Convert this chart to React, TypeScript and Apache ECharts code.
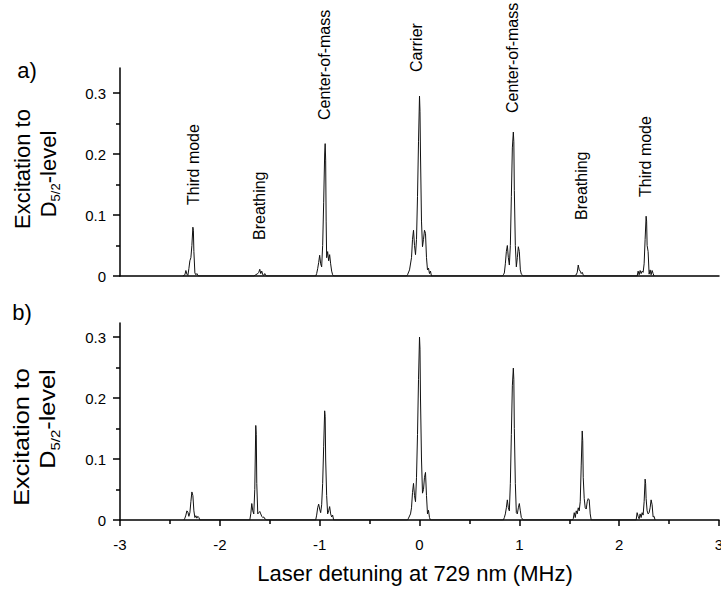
import React, { useEffect, useRef } from 'react';
import * as echarts from 'echarts';

type Pt = [number, number];

// ---------- Panel a) peaks (detuning MHz, excitation) ----------
const aThirdL: Pt[] = [[-2.37,0],[-2.35,0.002],[-2.34,0.009],[-2.33,0.003],[-2.32,0.001],[-2.31,0.012],[-2.30,0.025],[-2.29,0.03],[-2.28,0.05],[-2.27,0.08],[-2.265,0.075],[-2.26,0.04],[-2.25,0.005],[-2.24,0.002],[-2.23,0.004],[-2.22,0.001],[-2.21,0]];
const aBreathL: Pt[] = [[-1.66,0],[-1.64,0.002],[-1.62,0.004],[-1.61,0.006],[-1.60,0.011],[-1.59,0.004],[-1.58,0.008],[-1.57,0.002],[-1.56,0.001],[-1.55,0.004],[-1.54,0.001],[-1.53,0]];
const aComL: Pt[] = [[-1.04,0],[-1.03,0.004],[-1.02,0.012],[-1.01,0.022],[-1.0,0.034],[-0.99,0.02],[-0.98,0.015],[-0.97,0.05],[-0.96,0.12],[-0.95,0.2],[-0.945,0.217],[-0.94,0.19],[-0.935,0.09],[-0.93,0.03],[-0.92,0.04],[-0.91,0.025],[-0.90,0.035],[-0.89,0.02],[-0.88,0.008],[-0.87,0.002],[-0.86,0]];
const aCarrier: Pt[] = [[-0.13,0],[-0.12,0.002],[-0.1,0.01],[-0.08,0.03],[-0.07,0.06],[-0.06,0.075],[-0.05,0.05],[-0.04,0.035],[-0.03,0.06],[-0.02,0.13],[-0.01,0.22],[0,0.295],[0.005,0.27],[0.01,0.2],[0.02,0.09],[0.03,0.048],[0.04,0.06],[0.05,0.075],[0.06,0.07],[0.07,0.03],[0.08,0.01],[0.09,0.013],[0.1,0.004],[0.11,0.008],[0.12,0]];
const aComR: Pt[] = [[0.83,0],[0.84,0.002],[0.85,0.005],[0.86,0.02],[0.87,0.04],[0.88,0.05],[0.89,0.03],[0.9,0.018],[0.91,0.05],[0.92,0.13],[0.93,0.21],[0.94,0.236],[0.945,0.22],[0.95,0.14],[0.96,0.05],[0.97,0.015],[0.98,0.03],[0.99,0.048],[1.0,0.04],[1.01,0.01],[1.02,0.003],[1.04,0]];
const aBreathR: Pt[] = [[1.55,0],[1.57,0.002],[1.58,0.006],[1.59,0.018],[1.6,0.01],[1.61,0.008],[1.62,0.004],[1.63,0.006],[1.64,0.002],[1.65,0]];
const aThirdR: Pt[] = [[2.18,0],[2.19,0.008],[2.2,0.002],[2.21,0.009],[2.22,0.004],[2.23,0.008],[2.24,0.006],[2.25,0.02],[2.26,0.06],[2.27,0.098],[2.275,0.09],[2.28,0.05],[2.29,0.04],[2.3,0.003],[2.31,0.01],[2.32,0.002],[2.33,0.009],[2.34,0.004],[2.35,0]];

// ---------- Panel b) peaks ----------
const bThirdL: Pt[] = [[-2.36,0],[-2.35,0.003],[-2.34,0.008],[-2.33,0.015],[-2.32,0.013],[-2.31,0.006],[-2.30,0.012],[-2.29,0.03],[-2.28,0.046],[-2.27,0.04],[-2.26,0.015],[-2.25,0.004],[-2.24,0.007],[-2.23,0.003],[-2.22,0.006],[-2.21,0.004],[-2.2,0]];
const bBreathL: Pt[] = [[-1.7,0],[-1.69,0.01],[-1.68,0.027],[-1.67,0.015],[-1.66,0.01],[-1.65,0.05],[-1.64,0.155],[-1.635,0.14],[-1.63,0.06],[-1.62,0.01],[-1.61,0.012],[-1.6,0.014],[-1.59,0.01],[-1.58,0.006],[-1.57,0.004],[-1.56,0.005],[-1.55,0.002],[-1.53,0]];
const bComL: Pt[] = [[-1.04,0],[-1.03,0.008],[-1.02,0.02],[-1.01,0.026],[-1.0,0.018],[-0.99,0.012],[-0.98,0.025],[-0.97,0.06],[-0.96,0.12],[-0.95,0.179],[-0.945,0.17],[-0.94,0.1],[-0.93,0.04],[-0.92,0.01],[-0.91,0.015],[-0.9,0.022],[-0.89,0.01],[-0.88,0.005],[-0.87,0.008],[-0.86,0]];
const bCarrier: Pt[] = [[-0.12,0],[-0.11,0.003],[-0.09,0.01],[-0.08,0.02],[-0.07,0.045],[-0.06,0.06],[-0.05,0.04],[-0.04,0.03],[-0.03,0.07],[-0.02,0.14],[-0.01,0.23],[0,0.3],[0.005,0.28],[0.01,0.2],[0.02,0.1],[0.03,0.044],[0.04,0.05],[0.05,0.07],[0.06,0.078],[0.07,0.04],[0.08,0.01],[0.09,0.016],[0.1,0.004],[0.11,0]];
const bComR: Pt[] = [[0.84,0],[0.85,0.004],[0.86,0.01],[0.87,0.02],[0.88,0.033],[0.89,0.02],[0.9,0.015],[0.91,0.06],[0.92,0.14],[0.93,0.22],[0.94,0.249],[0.945,0.23],[0.95,0.15],[0.96,0.06],[0.97,0.012],[0.98,0.01],[0.99,0.02],[1.0,0.027],[1.01,0.015],[1.02,0.004],[1.04,0]];
const bBreathR: Pt[] = [[1.53,0],[1.54,0.002],[1.55,0.012],[1.56,0.004],[1.57,0.015],[1.58,0.01],[1.59,0.02],[1.6,0.015],[1.61,0.03],[1.62,0.09],[1.63,0.146],[1.635,0.13],[1.64,0.07],[1.65,0.035],[1.66,0.02],[1.67,0.018],[1.68,0.03],[1.69,0.035],[1.7,0.033],[1.71,0.01],[1.72,0]];
const bThirdR: Pt[] = [[2.17,0],[2.18,0.012],[2.19,0.006],[2.2,0.002],[2.21,0.01],[2.22,0.004],[2.23,0.012],[2.24,0.008],[2.25,0.03],[2.26,0.067],[2.265,0.06],[2.27,0.035],[2.28,0.015],[2.29,0.01],[2.3,0.012],[2.31,0.02],[2.32,0.033],[2.33,0.025],[2.34,0.005],[2.35,0.006],[2.36,0]];

const panelA: Pt[] = [...aThirdL, ...aBreathL, ...aComL, ...aCarrier, ...aComR, ...aBreathR, ...aThirdR];
const panelB: Pt[] = [...bThirdL, ...bBreathL, ...bComL, ...bCarrier, ...bComR, ...bBreathR, ...bThirdR];

const peakLabels = ['Third mode', 'Breathing', 'Center-of-mass', 'Carrier', 'Center-of-mass', 'Breathing', 'Third mode'];
const yMajorTicks = [0, 0.1, 0.2, 0.3];
const yMinorTicks = [0.05, 0.15, 0.25];
const xTitle = 'Laser detuning at 729 nm (MHz)';
const panelNames = ['a)', 'b)'];

const FONT = '"Liberation Sans", Arial, Helvetica, sans-serif';

function measure(text: string, size: number): number {
  const ctx = document.createElement('canvas').getContext('2d');
  if (!ctx) return text.length * size * 0.55;
  ctx.font = `${size}px "Liberation Sans"`;
  return ctx.measureText(text).width;
}

function yTitle(c1: [number, number], c2: [number, number], stretch: number): any[] {
  const fs = 22;
  const ss = 13;
  const wD = measure('D', fs);
  const wS = measure('5/2', ss);
  const wL = measure('-level', fs);
  const start = -(wD + wS + wL) / 2;
  const base = { fill: '#000', fontFamily: FONT, verticalAlign: 'middle' };
  return [
    {
      type: 'text', x: c1[0], y: c1[1], rotation: Math.PI / 2, scaleX: stretch,
      style: { ...base, text: 'Excitation to', fontSize: fs, align: 'center' },
    },
    {
      type: 'group', x: c2[0], y: c2[1], rotation: Math.PI / 2, scaleX: stretch,
      children: [
        { type: 'text', x: start, y: 0, style: { ...base, text: 'D', fontSize: fs, align: 'left' } },
        { type: 'text', x: start + wD, y: 7, style: { ...base, text: '5/2', fontSize: ss, align: 'left' } },
        { type: 'text', x: start + wD + wS, y: 0, style: { ...base, text: '-level', fontSize: fs, align: 'left' } },
      ],
    },
  ];
}

const labelPos: [number, number][] = [[193, 205], [259, 240], [324, 120], [416, 72], [512, 113], [581, 220], [645, 197]];

export default function App() {
  const ref = useRef<HTMLDivElement>(null);
  useEffect(() => {
    if (!ref.current) return;
    const chart = echarts.init(ref.current, null, { renderer: 'svg' });

    const axisLine = { show: true, onZero: false, lineStyle: { color: '#000', width: 1.5 } };
    const yMajor = (grid: number, max: number) => ({
      type: 'value', gridIndex: grid, min: 0, max, position: 'left',
      axisLine,
      axisTick: { show: true, length: 7, customValues: yMajorTicks, lineStyle: { color: '#000', width: 1.5 } },
      axisLabel: {
        show: true, customValues: yMajorTicks, margin: 14, color: '#000', fontSize: 15, fontFamily: FONT,
        formatter: (v: number) => (v === 0 ? '0' : v.toFixed(1)),
      },
      splitLine: { show: false },
    });
    const yMinor = (grid: number, max: number) => ({
      type: 'value', gridIndex: grid, min: 0, max, position: 'left', offset: 0,
      axisLine: { show: false, onZero: false },
      axisTick: { show: true, length: 4, customValues: yMinorTicks, lineStyle: { color: '#000', width: 1.5 } },
      axisLabel: { show: false },
      splitLine: { show: false },
    });

    const annotations = peakLabels.map((t, i) => ({
      type: 'text', x: labelPos[i][0], y: labelPos[i][1], rotation: Math.PI / 2,
      style: { text: t, fontSize: 16, fontFamily: FONT, fill: '#000', align: 'left', verticalAlign: 'middle' },
    }));

    const option: any = {
      animation: false,
      backgroundColor: '#fff',
      grid: [
        { left: 120, top: 68, width: 599, height: 208, outerBoundsMode: 'none', containLabel: false },
        { left: 120, top: 323, width: 599, height: 197, outerBoundsMode: 'none', containLabel: false },
      ],
      xAxis: [
        {
          type: 'value', gridIndex: 0, min: -3, max: 3, interval: 1,
          axisLine, axisTick: { show: false }, axisLabel: { show: false }, splitLine: { show: false },
        },
        {
          type: 'value', gridIndex: 1, min: -3, max: 3, interval: 1,
          axisLine,
          axisTick: { show: true, length: 6, lineStyle: { color: '#000', width: 1.5 } },
          minorTick: { show: true, splitNumber: 2, length: 4, lineStyle: { color: '#000', width: 1.5 } },
          axisLabel: { show: true, margin: 17, color: '#000', fontSize: 15, fontFamily: FONT, hideOverlap: false },
          splitLine: { show: false },
        },
      ],
      yAxis: [yMajor(0, 0.341), yMinor(0, 0.341), yMajor(1, 0.323), yMinor(1, 0.323)],
      series: [
        {
          type: 'line', xAxisIndex: 0, yAxisIndex: 0, data: panelA, showSymbol: false, silent: true,
          lineStyle: { color: '#111', width: 1 },
        },
        {
          type: 'line', xAxisIndex: 1, yAxisIndex: 2, data: panelB, showSymbol: false, silent: true,
          lineStyle: { color: '#111', width: 1 },
        },
      ],
      graphic: [
        ...annotations,
        ...yTitle([22, 169], [48, 174], 1),
        ...yTitle([22, 437], [48, 419], 1.15),
        {
          type: 'text', x: 27, y: 70,
          style: { text: panelNames[0], fontSize: 22, fontFamily: FONT, fill: '#000', align: 'center', verticalAlign: 'middle' },
        },
        {
          type: 'text', x: 22, y: 312,
          style: { text: panelNames[1], fontSize: 22, fontFamily: FONT, fill: '#000', align: 'center', verticalAlign: 'middle' },
        },
        {
          type: 'text', x: 415, y: 573,
          style: { text: xTitle, fontSize: 22, fontFamily: FONT, fill: '#000', align: 'center', verticalAlign: 'middle' },
        },
      ],
    };
    chart.setOption(option);
    return () => chart.dispose();
  }, []);

  return <div ref={ref} style={{ position: 'fixed', left: 0, top: 0, width: 721, height: 590 }} />;
}
